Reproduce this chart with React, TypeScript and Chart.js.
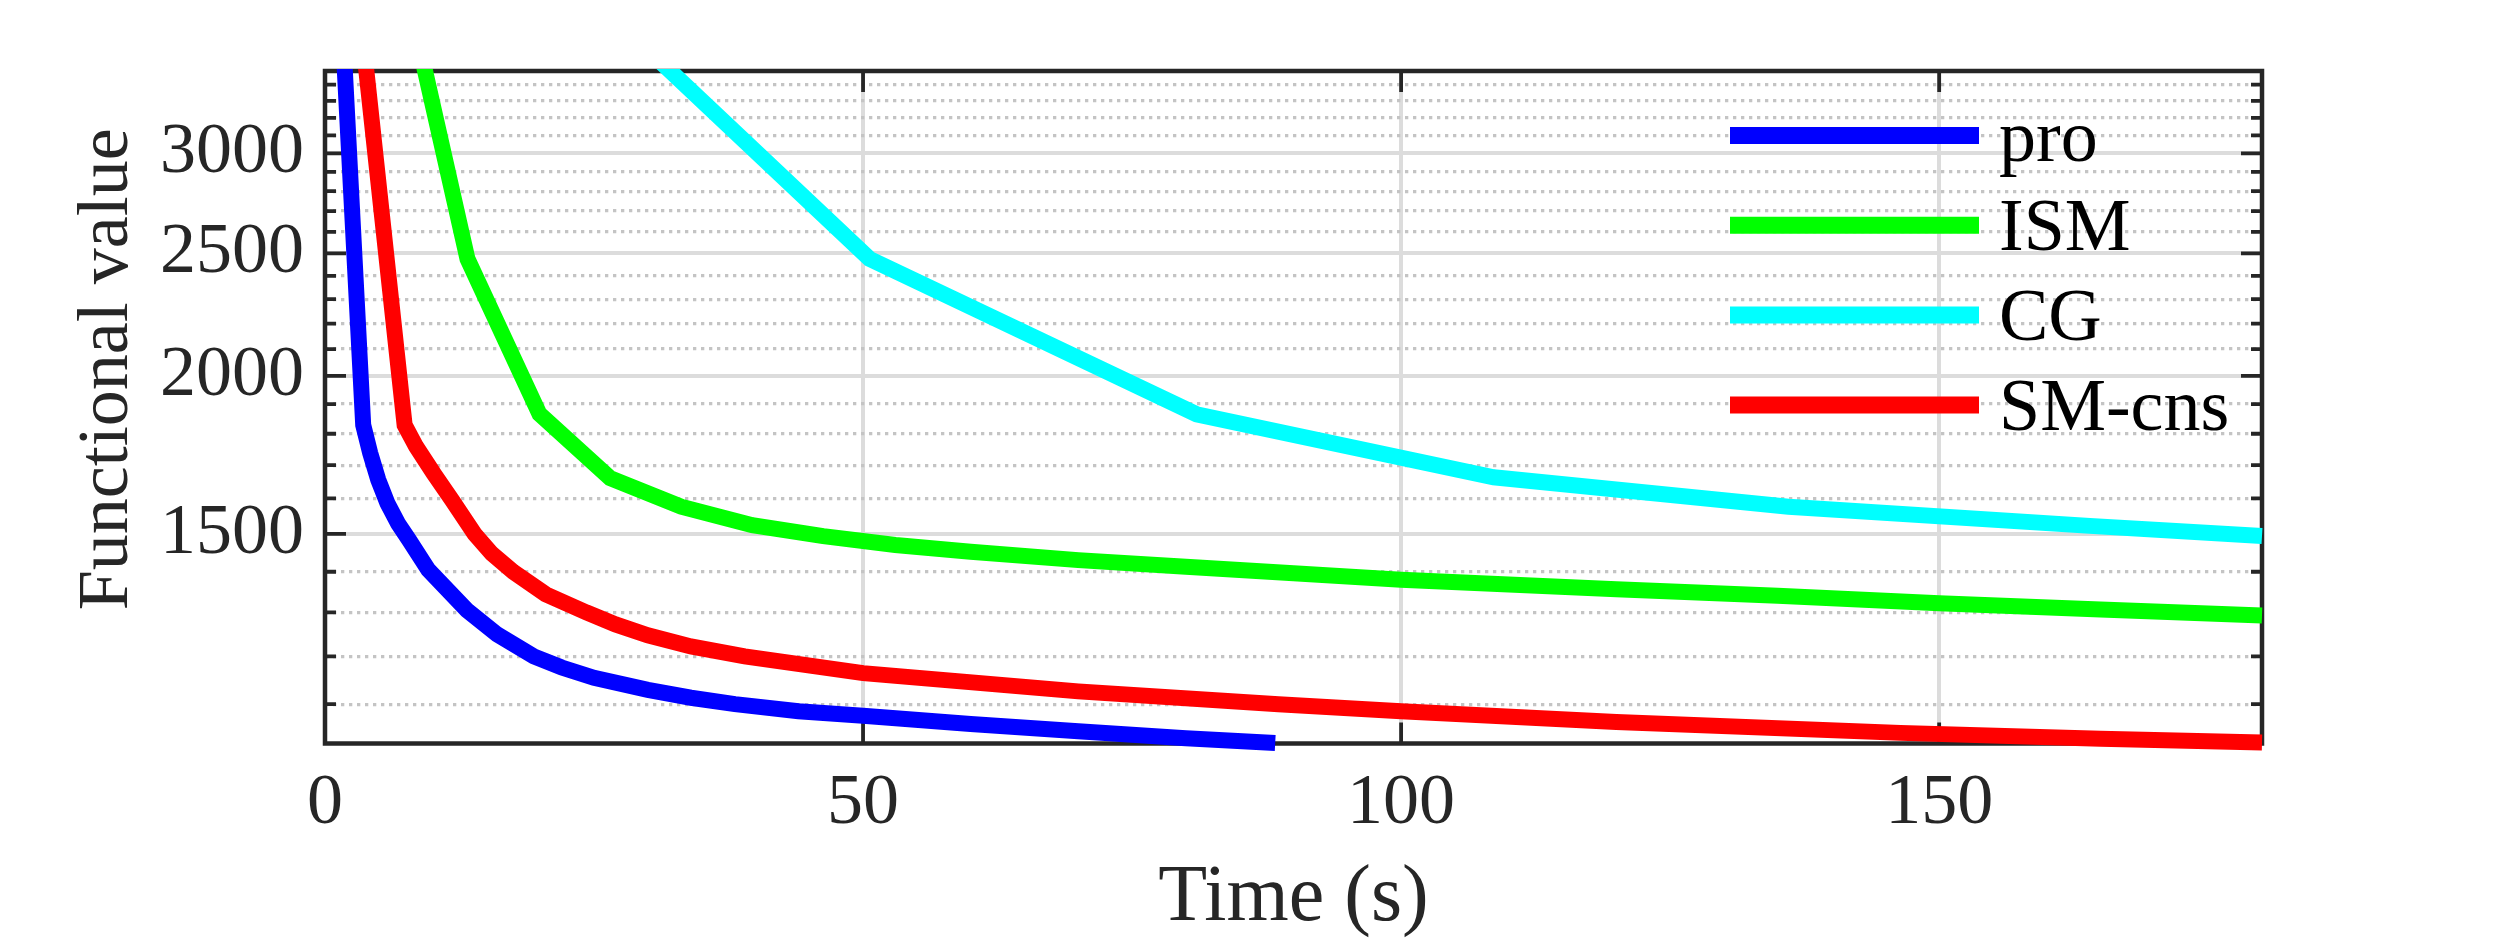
import React, { useEffect, useRef } from 'react';
import { Chart, registerables } from 'chart.js';

Chart.register(...registerables);

// ---- data ----
const seriesLabels = ['pro', 'ISM', 'CG', 'SM-cns'];
const seriesColors = ['#0000ff', '#00ff00', '#00ffff', '#ff0000'];

const proTime = [0, 3.55, 4.2, 4.95, 5.8, 6.8, 7.8, 9.6, 13.2, 16, 19.4, 22, 25, 30, 34, 38.1, 44, 50, 60, 70, 80, 88.3];
const proValue = [7000, 1829, 1738, 1655, 1586, 1528, 1484, 1405, 1305, 1249, 1200, 1176, 1154, 1129, 1113, 1100, 1086, 1077, 1061, 1047, 1034, 1025];

const ismTime = [6.6, 13.24, 19.93, 26.5, 33.1, 39.7, 46.3, 53, 60, 70, 80, 90, 100, 110, 120, 135, 150, 165, 180];
const ismValue = [4406, 2475, 1866, 1660, 1576, 1524, 1494, 1470, 1452, 1430, 1413, 1396, 1380, 1368, 1356, 1340, 1322, 1307, 1293];

const cgTime = [19.4, 50.6, 81, 108.6, 136, 164, 180];
const cgValue = [4406, 2475, 1865, 1663, 1576, 1522, 1494];

const smTime = [0, 7.4, 8.46, 10.07, 11.78, 13.9, 15.5, 17.5, 20.5, 24.3, 27, 30, 34, 39, 50, 70, 88.6, 100, 120, 146.4, 165, 180];
const smValue = [7000, 1829, 1759, 1676, 1596, 1500, 1447, 1400, 1344, 1300, 1272, 1247, 1222, 1200, 1164, 1126, 1100, 1086, 1065, 1044, 1033, 1026];

const xTickValues = [0, 50, 100, 150];
const yTickValues = [1100, 1200, 1300, 1400, 1500, 1600, 1700, 1800, 1900, 2000, 2100, 2200, 2300, 2400, 2500, 2600, 2700, 2800, 2900, 3000, 3100, 3200, 3300, 3400];
const yLabelled = [1500, 2000, 2500, 3000];

const xMin = 0;
const xMax = 180;
const yMin = 1024;
const yMax = 3485;

const FONT = 'Liberation Serif';
const AXIS_COLOR = '#262626';
const MAJOR_GRID = '#dcdcdc';
const MINOR_GRID = '#c4c4c4';

const toPoints = (t: number[], v: number[]) => t.map((x, i) => ({ x, y: v[i] }));

// inner tick marks, box, legend and axis titles in the MATLAB look
const matlabAxes = {
  id: 'matlabAxes',
  beforeDatasetsDraw(chart: any) {
    const { ctx, chartArea: a, scales } = chart;
    ctx.save();
    ctx.strokeStyle = AXIS_COLOR;
    ctx.lineWidth = 3.8;
    ctx.beginPath();
    yTickValues.forEach((v) => {
      const py = scales.y.getPixelForValue(v);
      const len = yLabelled.includes(v) ? 21 : 11;
      ctx.moveTo(a.left, py);
      ctx.lineTo(a.left + len, py);
      ctx.moveTo(a.right, py);
      ctx.lineTo(a.right - len, py);
    });
    xTickValues.forEach((v) => {
      const px = scales.x.getPixelForValue(v);
      ctx.moveTo(px, a.bottom);
      ctx.lineTo(px, a.bottom - 21);
      ctx.moveTo(px, a.top);
      ctx.lineTo(px, a.top + 21);
    });
    ctx.stroke();
    ctx.lineWidth = 4.5;
    ctx.strokeRect(a.left, a.top, a.right - a.left, a.bottom - a.top);
    ctx.restore();
  },
  afterDatasetsDraw(chart: any) {
    const { ctx, chartArea: a } = chart;
    ctx.save();
    // legend (no box)
    ctx.font = `74px "${FONT}"`;
    ctx.textAlign = 'left';
    ctx.textBaseline = 'alphabetic';
    chart.data.datasets.forEach((ds: any, i: number) => {
      const cy = a.top + 64.5 + i * 89.8;
      ctx.strokeStyle = ds.borderColor;
      ctx.lineWidth = 17;
      ctx.beginPath();
      ctx.moveTo(a.right - 532, cy);
      ctx.lineTo(a.right - 283, cy);
      ctx.stroke();
      ctx.fillStyle = '#000000';
      ctx.fillText(ds.label, a.right - 263, cy + 25);
    });
    // axis titles
    ctx.fillStyle = AXIS_COLOR;
    ctx.textAlign = 'center';
    ctx.font = `80px "${FONT}"`;
    ctx.fillText('Time (s)', (a.left + a.right) / 2, a.bottom + 176.5);
    ctx.font = `72px "${FONT}"`;
    ctx.translate(a.left - 198, (a.top + a.bottom) / 2 - 38);
    ctx.rotate(-Math.PI / 2);
    ctx.fillText('Functional value', 0, 0);
    ctx.restore();
  },
};

export default function App() {
  const canvasRef = useRef<HTMLCanvasElement>(null);
  const chartRef = useRef<Chart | null>(null);

  useEffect(() => {
    if (!canvasRef.current) return;
    if (chartRef.current) chartRef.current.destroy();

    const series = [
      toPoints(proTime, proValue),
      toPoints(ismTime, ismValue),
      toPoints(cgTime, cgValue),
      toPoints(smTime, smValue),
    ];

    const datasets = series.map((data, i) => ({
      label: seriesLabels[i],
      data,
      borderColor: seriesColors[i],
      backgroundColor: seriesColors[i],
      borderWidth: 16,
      pointRadius: 0,
      tension: 0,
      fill: false,
      order: seriesLabels.length - i,
      clip: { left: 2, top: 2, right: 9, bottom: 9 },
    }));

    const yScaleBase = {
      type: 'logarithmic' as const,
      min: yMin,
      max: yMax,
      afterBuildTicks: (scale: any) => {
        scale.ticks = yTickValues.map((value) => ({ value }));
      },
    };

    chartRef.current = new Chart(canvasRef.current, {
      type: 'line',
      data: { datasets },
      options: {
        responsive: true,
        maintainAspectRatio: false,
        animation: false,
        layout: { padding: { left: 0, top: 71, right: 238, bottom: 0 } },
        plugins: {
          legend: { display: false },
          tooltip: { enabled: false },
        },
        scales: {
          x: {
            type: 'linear',
            min: xMin,
            max: xMax,
            afterBuildTicks: (scale: any) => {
              scale.ticks = xTickValues.map((value) => ({ value }));
            },
            afterFit: (scale: any) => {
              scale.height = 194.5;
            },
            border: { display: false },
            grid: { color: MAJOR_GRID, lineWidth: 4, drawTicks: false },
            ticks: {
              color: AXIS_COLOR,
              font: { family: FONT, size: 72 },
              padding: 17,
              autoSkip: false,
              maxRotation: 0,
            },
          },
          y: {
            ...yScaleBase,
            position: 'left',
            afterFit: (scale: any) => {
              scale.width = 325;
            },
            border: { display: false },
            grid: {
              color: (c: any) => (yLabelled.includes(c.tick?.value) ? MAJOR_GRID : 'rgba(0,0,0,0)'),
              lineWidth: 4,
              drawTicks: false,
            },
            ticks: {
              color: AXIS_COLOR,
              font: { family: FONT, size: 72 },
              padding: 21,
              autoSkip: false,
              callback: (v: any) => (yLabelled.includes(Number(v)) ? String(v) : ''),
            },
          },
          yMinor: {
            ...yScaleBase,
            position: 'right',
            afterFit: (scale: any) => {
              scale.width = 0;
            },
            border: { display: false, dash: [3.3, 4.7] },
            grid: {
              color: (c: any) => (yLabelled.includes(c.tick?.value) ? 'rgba(0,0,0,0)' : MINOR_GRID),
              lineWidth: 3.3,
              drawTicks: false,
            },
            ticks: { display: false, autoSkip: false },
          },
        },
      },
      plugins: [matlabAxes],
    } as any);

    return () => {
      if (chartRef.current) {
        chartRef.current.destroy();
        chartRef.current = null;
      }
    };
  }, []);

  return (
    <div style={{ position: 'fixed', left: 0, top: 0, width: 2500, height: 938, background: '#ffffff' }}>
      <canvas ref={canvasRef}></canvas>
    </div>
  );
}
